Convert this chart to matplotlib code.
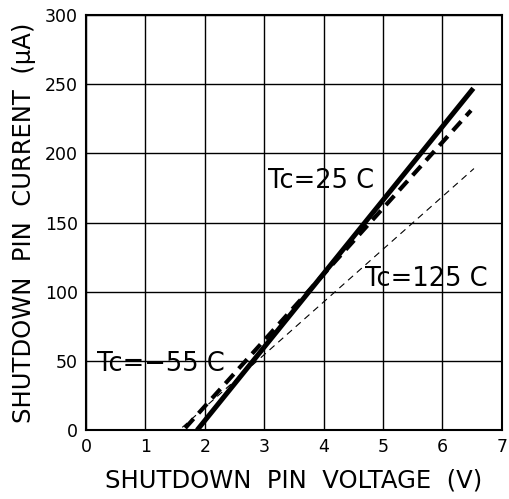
import matplotlib.pyplot as plt
import numpy as np

# end points of each curve
v_25 = [1.87, 6.52]
i_25 = [0, 247]
v_m55 = [1.67, 6.48]
i_m55 = [1.5, 231]
v_125 = [1.62, 6.53]
i_125 = [2, 189]

xticks = np.arange(0, 8, 1)
yticks = np.arange(0, 301, 50)

fig = plt.figure(figsize=(5.09, 4.99), dpi=100)
ax = fig.add_axes([0.169, 0.138, 0.817, 0.832])

ax.plot(v_25, i_25, color='black', lw=3.6, solid_capstyle='butt')
ax.plot(v_m55, i_m55, color='black', lw=3.0, linestyle=(0, (3, 1.8)))
ax.plot(v_125, i_125, color='black', lw=0.8, linestyle=(0, (6, 4.5)))

ax.text(3.06, 180, 'Tc=25 C', fontsize=18.5, va='center', ha='left')
ax.text(4.70, 109.5, 'Tc=125 C', fontsize=18.5, va='center', ha='left')
ax.text(0.19, 48, 'Tc=\u221255 C', fontsize=18.5, va='center', ha='left')

ax.set_xlim([0, 7])
ax.set_ylim([0, 300])
ax.set_xticks(xticks)
ax.set_yticks(yticks)
ax.tick_params(length=0, labelsize=12.5, pad=6)
ax.grid(True, color='black', lw=1.0)
for s in ax.spines.values():
    s.set_linewidth(1.5)

ax.set_xlabel('SHUTDOWN  PIN  VOLTAGE  (V)', fontsize=17.5, labelpad=9)
ax.set_ylabel('SHUTDOWN  PIN  CURRENT  (\u00b5A)', fontsize=17.5, labelpad=6)

plt.savefig('out.png', dpi=100)
